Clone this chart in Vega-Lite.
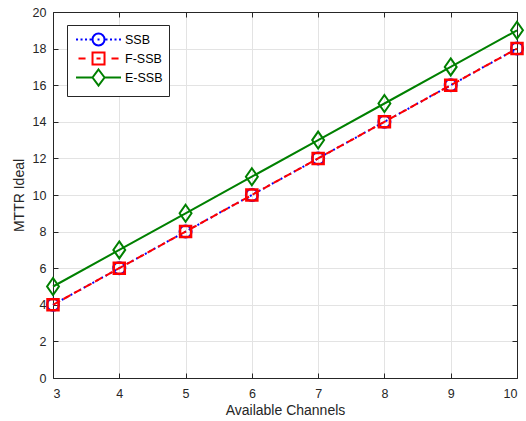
{
  "$schema": "https://vega.github.io/schema/vega-lite/v6.json",
  "width": 464,
  "height": 366,
  "autosize": "none",
  "padding": {"left": 53, "top": 12, "right": 9, "bottom": 43},
  "background": "white",
  "resolve": {"axis": {"x": "independent", "y": "independent"}},
  "config": {
    "font": "Liberation Sans",
    "view": {"stroke": null},
    "axis": {
      "labelFont": "Liberation Sans",
      "titleFont": "Liberation Sans",
      "labelFontSize": 12.5,
      "titleFontSize": 14,
      "titleFontWeight": "normal",
      "labelColor": "#262626",
      "titleColor": "#262626",
      "domainColor": "#262626",
      "tickColor": "#262626",
      "gridColor": "#e3e3e3",
      "gridWidth": 1,
      "domainWidth": 1,
      "tickWidth": 1
    },
    "legend": {
      "orient": "none",
      "legendX": 14,
      "legendY": 13,
      "title": null,
      "fillColor": "white",
      "strokeColor": "#262626",
      "padding": 6,
      "labelFont": "Liberation Sans",
      "labelFontSize": 12.5,
      "labelColor": "#000000",
      "symbolStrokeWidth": 2,
      "symbolSize": 225,
      "labelOffset": 35,
      "rowPadding": -4
    }
  },
  "data": {
    "values": [
      {"series": "SSB", "channels": 3, "mttr": 4},
      {"series": "SSB", "channels": 4, "mttr": 6},
      {"series": "SSB", "channels": 5, "mttr": 8},
      {"series": "SSB", "channels": 6, "mttr": 10},
      {"series": "SSB", "channels": 7, "mttr": 12},
      {"series": "SSB", "channels": 8, "mttr": 14},
      {"series": "SSB", "channels": 9, "mttr": 16},
      {"series": "SSB", "channels": 10, "mttr": 18},
      {"series": "F-SSB", "channels": 3, "mttr": 4},
      {"series": "F-SSB", "channels": 4, "mttr": 6},
      {"series": "F-SSB", "channels": 5, "mttr": 8},
      {"series": "F-SSB", "channels": 6, "mttr": 10},
      {"series": "F-SSB", "channels": 7, "mttr": 12},
      {"series": "F-SSB", "channels": 8, "mttr": 14},
      {"series": "F-SSB", "channels": 9, "mttr": 16},
      {"series": "F-SSB", "channels": 10, "mttr": 18},
      {"series": "E-SSB", "channels": 3, "mttr": 5},
      {"series": "E-SSB", "channels": 4, "mttr": 7},
      {"series": "E-SSB", "channels": 5, "mttr": 9},
      {"series": "E-SSB", "channels": 6, "mttr": 11},
      {"series": "E-SSB", "channels": 7, "mttr": 13},
      {"series": "E-SSB", "channels": 8, "mttr": 15},
      {"series": "E-SSB", "channels": 9, "mttr": 17},
      {"series": "E-SSB", "channels": 10, "mttr": 19}
    ]
  },
  "encoding": {
    "x": {
      "field": "channels", "type": "quantitative",
      "scale": {"domain": [3, 10], "nice": false, "zero": false},
      "axis": null
    },
    "y": {
      "field": "mttr", "type": "quantitative",
      "scale": {"domain": [0, 20], "nice": false},
      "axis": null
    }
  },
  "layer": [
    {
      "mark": {"type": "rule", "opacity": 0},
      "encoding": {
        "x": {"field": "channels", "type": "quantitative", "scale": {"domain": [3, 10], "nice": false, "zero": false},
          "axis": {"orient": "bottom", "title": "Available Channels", "values": [3,4,5,6,7,8,9,10], "tickSize": -5, "labelPadding": 14, "titlePadding": 4, "grid": true, "format": "d"}},
        "y": {"field": "mttr", "type": "quantitative", "scale": {"domain": [0, 20], "nice": false},
          "axis": {"orient": "left", "title": "MTTR Ideal", "values": [0,2,4,6,8,10,12,14,16,18,20], "tickSize": -5, "labelPadding": 12, "titlePadding": 6, "grid": true, "format": "d"}}
      }
    },
    {
      "mark": {"type": "rule", "opacity": 0},
      "encoding": {
        "x": {"field": "channels", "type": "quantitative", "scale": {"domain": [3, 10], "nice": false, "zero": false},
          "axis": {"orient": "top", "labels": false, "title": null, "grid": false, "tickSize": -5, "values": [3,4,5,6,7,8,9,10]}},
        "y": {"field": "mttr", "type": "quantitative", "scale": {"domain": [0, 20], "nice": false},
          "axis": {"orient": "right", "labels": false, "title": null, "grid": false, "tickSize": -5, "values": [0,2,4,6,8,10,12,14,16,18,20]}}
      }
    },
    {
      "transform": [{"filter": "datum.series === 'SSB'"}],
      "mark": {"type": "line", "color": "#0000ff", "strokeWidth": 2, "strokeDash": [2, 3]},
      "encoding": {}
    },
    {
      "transform": [{"filter": "datum.series === 'SSB'"}],
      "mark": {"type": "point", "shape": "circle", "filled": false, "color": "#0000ff", "strokeWidth": 2, "size": 144, "opacity": 1},
      "encoding": {}
    },
    {
      "transform": [{"filter": "datum.series === 'F-SSB'"}],
      "mark": {"type": "line", "color": "#ff0000", "strokeWidth": 2, "strokeDash": [8, 4]},
      "encoding": {}
    },
    {
      "transform": [{"filter": "datum.series === 'F-SSB'"}],
      "mark": {"type": "point", "shape": "square", "filled": false, "color": "#ff0000", "strokeWidth": 2.5, "size": 121, "opacity": 1},
      "encoding": {}
    },
    {
      "transform": [{"filter": "datum.series === 'E-SSB'"}],
      "mark": {"type": "line", "color": "#008000", "strokeWidth": 2},
      "encoding": {}
    },
    {
      "transform": [{"filter": "datum.series === 'E-SSB'"}],
      "mark": {"type": "point", "shape": "M0,-1L0.7,0L0,1L-0.7,0Z", "filled": false, "color": "#008000", "strokeWidth": 2, "size": 289, "opacity": 1},
      "encoding": {}
    },
    {
      "transform": [{"filter": "false"}],
      "mark": {"type": "point", "filled": false, "strokeWidth": 2, "opacity": 1},
      "encoding": {
        "color": {
          "field": "series", "type": "nominal",
          "scale": {"domain": ["SSB", "F-SSB", "E-SSB"], "range": ["#0000ff", "#ff0000", "#008000"]},
          "legend": {"title": null}
        },
        "shape": {
          "field": "series", "type": "nominal",
          "scale": {"domain": ["SSB", "F-SSB", "E-SSB"], "range": [
            "M-0.73,0H-0.46M-0.13,0H0.14M0.47,0H0.74M1.07,0H1.34M3.07,0A0.8,0.8 0 1,1 1.47,0A0.8,0.8 0 1,1 3.07,0M2.14,0H2.4M3.2,0H3.47M3.8,0H4.07M4.4,0H4.67M5,0H5.27",
            "M-0.4,0H0.54M1.47,-0.8H3.07V0.8H1.47ZM2,0H2.54M4,0H4.94",
            "M-0.73,0H1.47M2.27,-1.07L3.07,0L2.27,1.07L1.47,0ZM3.07,0H5.27"
          ]},
          "legend": {"title": null}
        }
      }
    }
  ]
}
